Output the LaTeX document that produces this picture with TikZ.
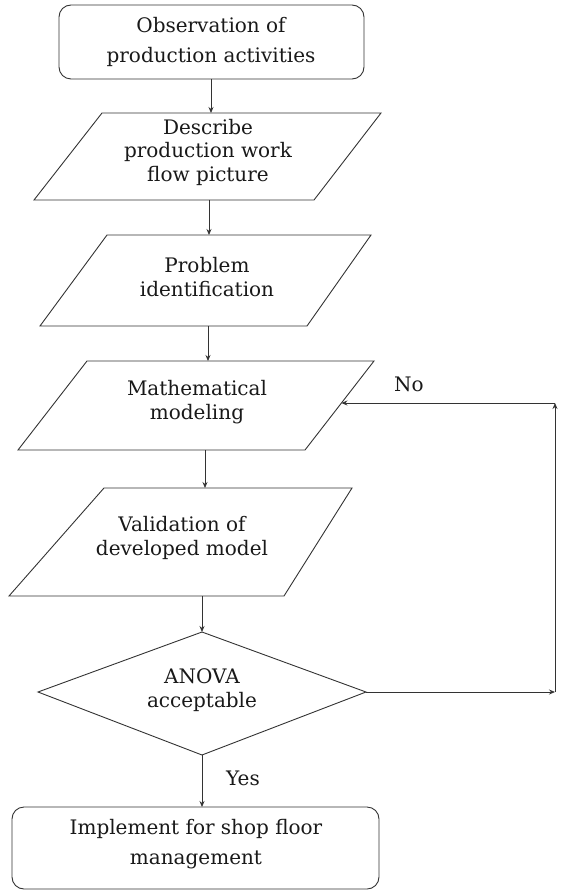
\documentclass[tikz,border=0pt]{standalone}
\usepackage{fontspec}
\setmainfont{DejaVu Serif}
\usetikzlibrary{arrows.meta,calc}
\begin{document}
\begin{tikzpicture}[x=1pt,y=-1pt,
  shapeline/.style={draw=black!80,line width=0.9pt},
  arr/.style={draw=black!80,line width=0.8pt,-{Stealth[length=6pt,width=5pt]}},
  txt/.style={align=center,text=black!90,font=\fontsize{20}{23.5}\selectfont,inner sep=0pt},
  rtxt/.style={align=center,text=black!90,font=\fontsize{20}{30.5}\selectfont,inner sep=0pt},
  lbl/.style={text=black!90,font=\fontsize{20}{23.5}\selectfont,inner sep=0pt}]
\useasboundingbox (0,0) rectangle (566,893);
% box 1
\draw[shapeline,rounded corners=12pt] (59,5) rectangle (364,79);
\node[rtxt] (b1) at (211,42) {Observation of\\production activities};
\coordinate (b1s) at (211,79);
% para 1
\coordinate (p1tl) at (102,113); \coordinate (p1tr) at (381,113);
\coordinate (p1br) at (314,200); \coordinate (p1bl) at (34,200);
\draw[shapeline] (p1tl) -- (p1tr) -- (p1br) -- (p1bl) -- cycle;
\node[txt] (p1) at (208,152) {Describe\\production work\\flow picture};
\coordinate (p1n) at (211,113); \coordinate (p1s) at (209,200);
% para 2
\coordinate (p2tl) at (107,235); \coordinate (p2tr) at (371,235);
\coordinate (p2br) at (307,326); \coordinate (p2bl) at (40,326);
\draw[shapeline] (p2tl) -- (p2tr) -- (p2br) -- (p2bl) -- cycle;
\node[txt] (p2) at (207,277) {Problem\\identification};
\coordinate (p2n) at (209,235); \coordinate (p2s) at (208,326);
% para 3
\coordinate (p3tl) at (87,361); \coordinate (p3tr) at (374,361);
\coordinate (p3br) at (305,450); \coordinate (p3bl) at (18,450);
\draw[shapeline] (p3tl) -- (p3tr) -- (p3br) -- (p3bl) -- cycle;
\node[txt] (p3) at (197,402) {Mathematical\\modeling};
\coordinate (p3n) at (208,361); \coordinate (p3s) at (205,450);
\coordinate (p3e) at ($(p3tr)!0.472!(p3br)$);
% para 4
\coordinate (p4tl) at (104,488); \coordinate (p4tr) at (352,488);
\coordinate (p4br) at (284,596); \coordinate (p4bl) at (9,596);
\draw[shapeline] (p4tl) -- (p4tr) -- (p4br) -- (p4bl) -- cycle;
\node[txt] (p4) at (182,538) {Validation of\\developed model};
\coordinate (p4n) at (205,488); \coordinate (p4s) at (202,596);
% diamond
\coordinate (dn) at (202,632); \coordinate (de) at (366,692);
\coordinate (ds) at (202,755); \coordinate (dw) at (38,692);
\draw[shapeline] (dn) -- (de) -- (ds) -- (dw) -- cycle;
\node[txt] (d) at (202,690) {ANOVA\\acceptable};
% box 6
\draw[shapeline,rounded corners=12pt] (12,807) rectangle (379,889);
\node[rtxt] (b6) at (196,844) {Implement for shop floor\\management};
\coordinate (b6n) at (202,807);
% loop coordinates
\coordinate (lr) at (555,692);
\coordinate (lt) at ($(lr|-p3e)$);
% connectors
\draw[arr] (b1s) -- (p1n);
\draw[arr] (p1s) -- (p2n);
\draw[arr] (p2s) -- (p3n);
\draw[arr] (p3s) -- (p4n);
\draw[arr] (p4s) -- (dn);
\draw[arr] (ds) -- (b6n);
\draw[arr] (de) -- (lr);
\draw[arr] (lr) -- (lt);
\draw[arr] (lt) -- (p3e);
% labels
\node[lbl] (yes) at (243,778) {Yes};
\node[lbl] (no) at (409,384) {No};
\end{tikzpicture}
\end{document}
